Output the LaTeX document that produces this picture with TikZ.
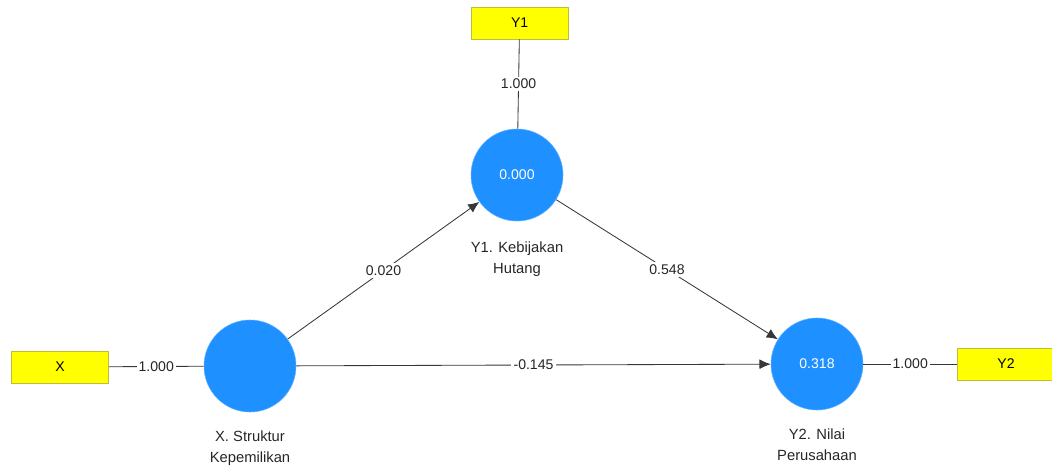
\documentclass[tikz,border=0pt]{standalone}
\usepackage{fontspec}
\setmainfont{Liberation Sans}
\usepackage{tikz}
\usetikzlibrary{positioning,arrows.meta}
\definecolor{lvblue}{RGB}{30,144,255}
\definecolor{mvyellow}{RGB}{255,255,0}
\definecolor{mvedge}{RGB}{190,190,60}
\definecolor{pathgray}{RGB}{55,55,55}

\begin{document}
\begin{tikzpicture}[
    every node/.style={font=\fontsize{10}{15.5}\selectfont},
    latent/.style={circle, fill=lvblue, draw=lvblue!70!white, minimum size=2.3cm,
                   inner sep=0pt, text=white},
    manifest/.style={rectangle, fill=mvyellow, draw=mvedge, minimum width=2.425cm,
                     minimum height=0.8cm, inner sep=0pt},
    caption/.style={align=center, inner sep=0pt, text=black!85,
                    font=\fontsize{10.5}{15}\selectfont},
    coef/.style={fill=white, inner sep=1.5pt, text=black!85},
    path/.style={-{Latex[length=8pt,width=7pt]}, pathgray, semithick},
    load/.style={pathgray, semithick}
]
\useasboundingbox (0,0) rectangle (26.3,11.625);

\node[latent] (x) at (6.25,2.475) {};
\node[latent] (y1) at (12.925,7.25) {0.000};
\node[latent] (y2) at (20.425,2.525) {0.318};

\node[manifest] (mx) at (1.5,2.45) {X};
\node[manifest] (my1) at (12.99,11.05) {Y1};
\node[manifest] (my2) at (25.15,2.525) {Y2};

\node[caption, below=0.45cm of x] (capx) {X. Struktur\\Kepemilikan};
\node[caption, below=0.5cm of y1] (capy1) {Y1. Kebijakan\\Hutang};
\node[caption, below=0.45cm of y2] (capy2) {Y2. Nilai\\Perusahaan};

\draw[load] (mx) -- node[coef]{1.000} (x);
\draw[load] (my1) -- node[coef]{1.000} (y1);
\draw[load] (y2) -- node[coef]{1.000} (my2);

\draw[path] (x) -- node[coef]{0.020} (y1);
\draw[path] (y1) -- node[coef]{0.548} (y2);
\draw[path] (x) -- node[coef]{-0.145} (y2);
\end{tikzpicture}
\end{document}
